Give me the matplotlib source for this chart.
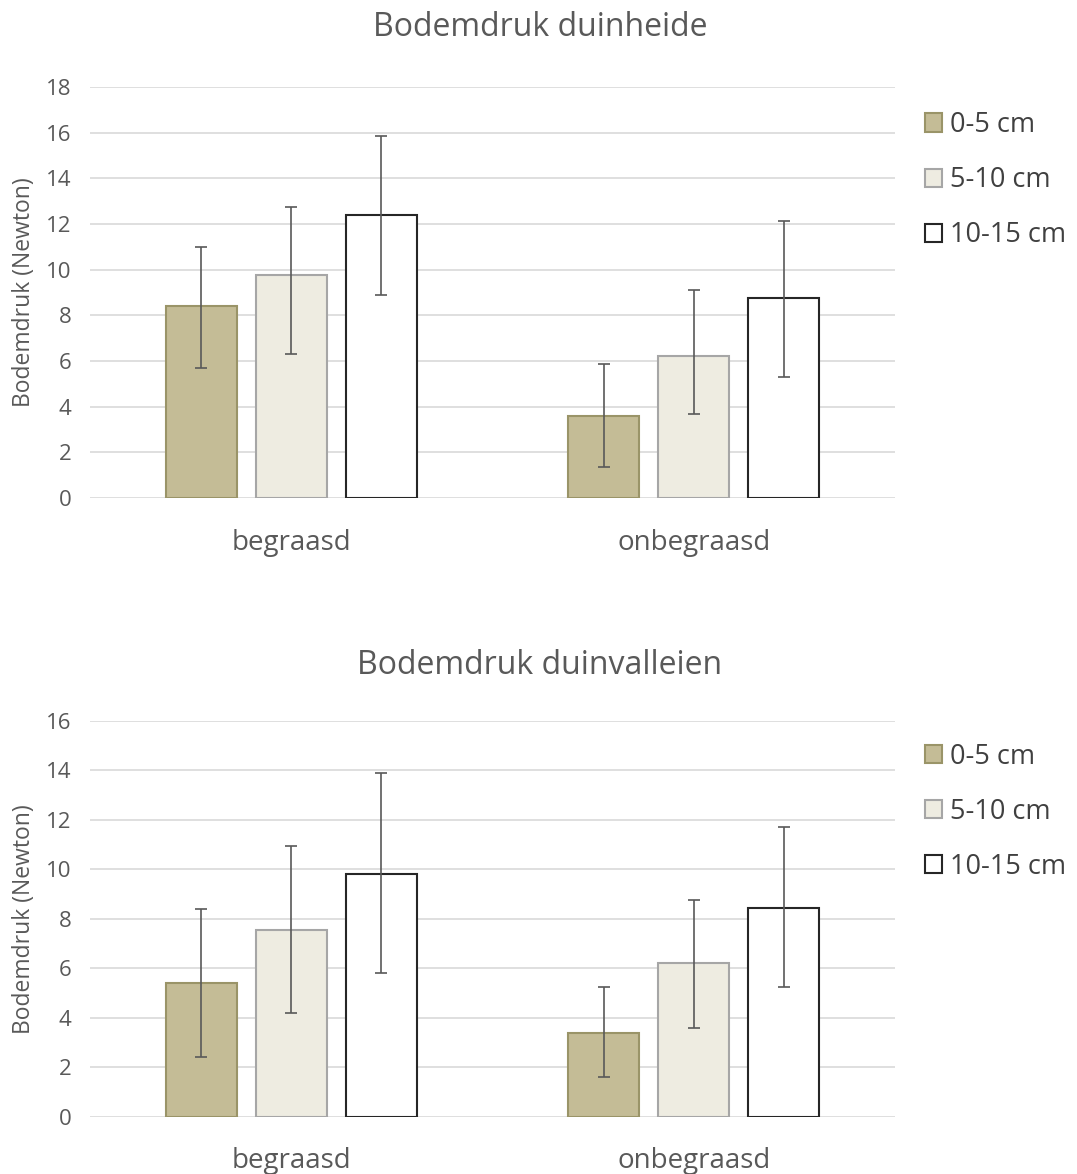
import numpy as np
import matplotlib
matplotlib.use("Agg")
import matplotlib.pyplot as plt

plt.rcParams['font.family'] = ['Open Sans', 'DejaVu Sans']

# data
categories = ['begraasd', 'onbegraasd']
depths = ['0-5 cm', '5-10 cm', '10-15 cm']

# duinheide
heide_mean = [[8.4, 3.6], [9.75, 6.2], [12.4, 8.75]]
heide_low = [[5.7, 1.35], [6.3, 3.7], [8.9, 5.3]]
heide_high = [[11.0, 5.85], [12.75, 9.1], [15.85, 12.15]]

# duinvalleien
vallei_mean = [[5.4, 3.4], [7.55, 6.2], [9.8, 8.45]]
vallei_low = [[2.4, 1.6], [4.2, 3.6], [5.8, 5.25]]
vallei_high = [[8.4, 5.25], [10.95, 8.75], [13.9, 11.7]]

fills = ['#c4bc96', '#eeece1', '#ffffff']
edges = ['#9a9468', '#a6a6a6', '#262626']
grey = '#595959'

fig = plt.figure(figsize=(10.77, 11.74), dpi=100)
ax1 = fig.add_axes([0.0836, 0.5758, 0.7474, 0.3501])
ax2 = fig.add_axes([0.0836, 0.0488, 0.7474, 0.3373])


def draw(ax, means, lows, highs, ymax, title, title_y, leg_y):
    x = np.arange(len(categories))
    w = 0.176
    step = 0.224
    for i in range(len(depths)):
        pos = x + (i - 1) * step
        m = np.array(means[i])
        lo = m - np.array(lows[i])
        hi = np.array(highs[i]) - m
        ax.bar(pos, m, width=w, color=fills[i], edgecolor=edges[i],
               linewidth=1.5, label=depths[i], zorder=2)
        ax.errorbar(pos, m, yerr=[lo, hi], fmt='none', ecolor=grey,
                    elinewidth=1.2, capsize=4.5, capthick=1.2, zorder=3)
    ax.set_xlim(-0.5, 1.5)
    ax.set_ylim(0, ymax)
    ax.set_yticks(np.arange(0, ymax + 1, 2))
    ax.set_xticks(x)
    ax.set_xticklabels(categories, fontsize=20, color=grey)
    ax.tick_params(axis='x', length=0, pad=22)
    ax.tick_params(axis='y', length=0, pad=13.5, labelsize=16, labelcolor=grey)
    ax.grid(axis='y', color='#d9d9d9', linewidth=1.2, zorder=0)
    ax.set_axisbelow(True)
    for s in ax.spines.values():
        s.set_visible(False)
    ax.set_ylabel('Bodemdruk (Newton)', fontsize=16.5, color=grey, labelpad=7)
    fig.text(540 / 1077, title_y, title, ha='center', va='center',
             fontsize=23, color=grey)
    ax.legend(loc='upper left', bbox_to_anchor=(1.037, leg_y), frameon=False,
              fontsize=19.5, labelspacing=1.0, handlelength=0.65,
              handleheight=0.65, handletextpad=0.3, borderpad=0,
              borderaxespad=0, labelcolor='#404040')


draw(ax1, heide_mean, heide_low, heide_high, 18, 'Bodemdruk duinheide',
     1 - 28 / 1174, 1 - 24 / 411)
draw(ax2, vallei_mean, vallei_low, vallei_high, 16, 'Bodemdruk duinvalleien',
     1 - 665 / 1174, 1 - 22 / 396)

fig.savefig('out.png', dpi=100, facecolor='white')
